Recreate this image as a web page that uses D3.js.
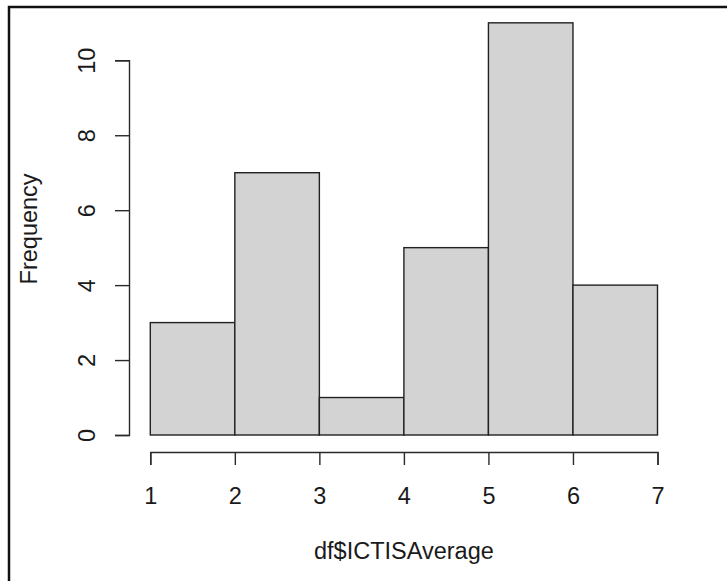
<!DOCTYPE html>
<html>
<head>
<meta charset="utf-8">
<script src="https://cdn.jsdelivr.net/npm/d3@7"></script>
<style>
  body { margin: 0; background: #fff; }
  text { font-family: "Liberation Sans", Arial, sans-serif; fill: #1a1a1a; }
</style>
</head>
<body>
<div id="chart"></div>
<script>
// histogram of df$ICTISAverage, breaks 1..7
const breaks = [1, 2, 3, 4, 5, 6, 7];
const counts = [3, 7, 1, 5, 11, 4];
const xTicks = [1, 2, 3, 4, 5, 6, 7];
const yTicks = [0, 2, 4, 6, 8, 10];

const width = 727,
      height = 581,
      fontSize = 23.5;

const bins = counts.map((c, i) => ({ x0: breaks[i], x1: breaks[i + 1], n: c }));

let svg = d3.select("#chart")
    .append("svg")
    .attr("width", width)
    .attr("height", height);

// outer frame (runs off right and bottom edge like the screenshot)
svg.append("rect")
    .attr("x", 9)
    .attr("y", 7)
    .attr("width", width + 20)
    .attr("height", height + 20)
    .attr("fill", "none")
    .attr("stroke", "#111")
    .attr("stroke-width", 2.5);

let x = d3.scaleLinear()
    .domain([1, 7])
    .range([150.3, 657.5]);

let y = d3.scaleLinear()
    .domain([0, 10])
    .range([435, 60.3]);

svg.append("g")
    .selectAll("rect")
    .data(bins)
    .join("rect")
    .attr("x", d => x(d.x0))
    .attr("y", d => y(d.n))
    .attr("width", d => x(d.x1) - x(d.x0))
    .attr("height", d => y(0) - y(d.n))
    .attr("fill", "#d3d3d3")
    .attr("stroke", "#222")
    .attr("stroke-width", 1.4);

// x axis, R style: line only between first and last tick
let gx = svg.append("g")
    .attr("transform", "translate(0,452)")
    .call(d3.axisBottom(x).tickValues(xTicks).tickSize(13).tickSizeOuter(13).tickFormat(d3.format("d")));

gx.selectAll("path, line").attr("stroke", "#2a2a2a").attr("stroke-width", 1.4);
gx.selectAll("text")
    .attr("font-size", fontSize)
    .attr("dy", null)
    .attr("y", 52)
    .style("fill", "#1a1a1a");

let gy = svg.append("g")
    .attr("transform", "translate(129,0)")
    .call(d3.axisLeft(y).tickValues(yTicks).tickSize(14).tickSizeOuter(14).tickFormat(d3.format("d")));

gy.selectAll("path, line").attr("stroke", "#2a2a2a").attr("stroke-width", 1.4);
gy.selectAll("text")
    .attr("font-size", fontSize)
    .attr("x", null)
    .attr("dy", null)
    .attr("text-anchor", "middle")
    .attr("transform", "translate(-34,0) rotate(-90)")
    .style("fill", "#1a1a1a");

svg.append("text")
    .attr("text-anchor", "middle")
    .attr("font-size", fontSize)
    .attr("transform", `translate(37,${y(5.5)}) rotate(-90)`)
    .text("Frequency");

svg.append("text")
    .attr("text-anchor", "middle")
    .attr("font-size", fontSize)
    .attr("x", x(4))
    .attr("y", 559)
    .text("df$ICTISAverage");
</script>
</body>
</html>
